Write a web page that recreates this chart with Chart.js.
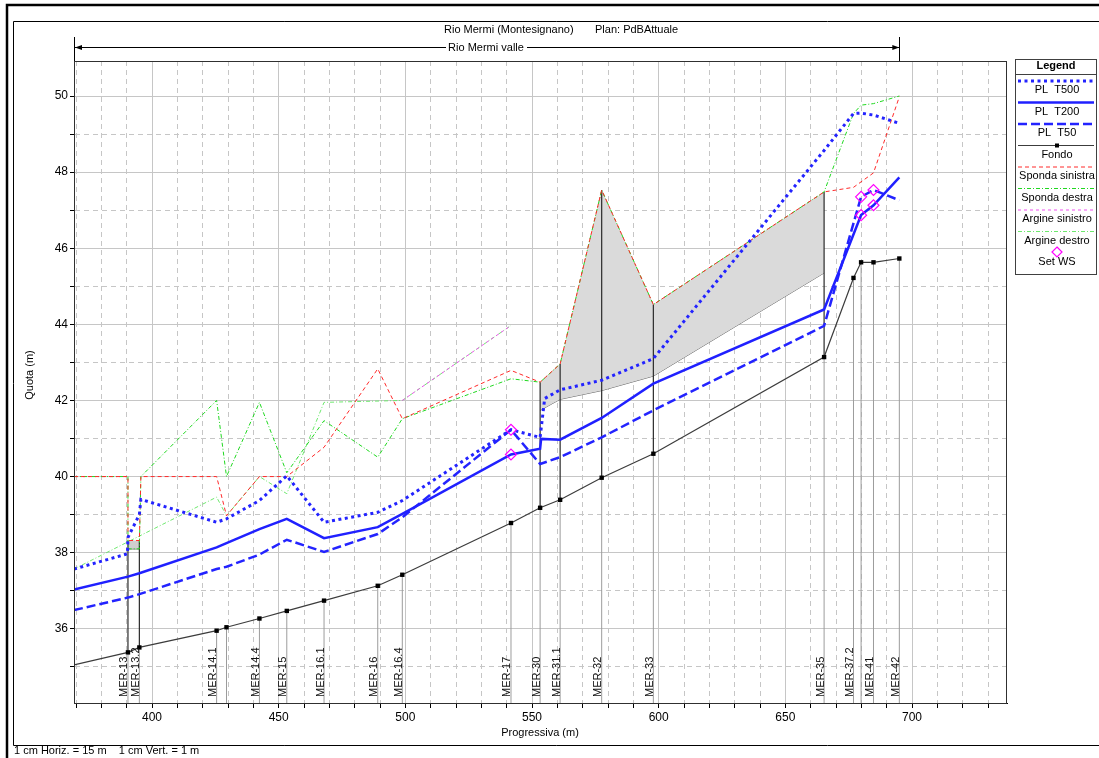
<!DOCTYPE html>
<html><head><meta charset="utf-8">
<script src="https://cdn.jsdelivr.net/npm/chart.js@4.4.1/dist/chart.umd.min.js"></script>
<style>html,body{margin:0;padding:0;background:#fff;}#wrap{position:relative;width:1099px;height:758px;}</style>
</head><body><div id="wrap"><canvas id="c" width="1099" height="758"></canvas></div>
<script>
// ---------- data ----------
const xsNames    = ['MER-13','MER-13.2','MER-14.1','','MER-14.4','MER-15','MER-16.1','MER-16','MER-16.4','MER-17','MER-30','MER-31.1','MER-32','MER-33','MER-35','MER-37.2','','MER-41','MER-42'];
const xsStations = [390.5,395.0,425.5,429.4,442.4,453.2,467.9,489.1,498.8,541.7,553.2,561.1,577.5,597.9,665.3,676.9,679.9,684.8,695.0];

const fondoX = [369.2,390.5,395.0,425.5,429.4,442.4,453.2,467.9,489.1,498.8,541.7,553.2,561.1,577.5,597.9,665.3,676.9,679.9,684.8,695.0];
const fondoY = [35.05,35.38,35.51,35.95,36.04,36.27,36.47,36.74,37.13,37.42,38.78,39.18,39.39,39.97,40.60,43.14,45.22,45.63,45.63,45.73];

const t500X = [369.2,390.3,390.5,395.0,395.6,425.5,429.4,442.4,453.2,467.9,489.1,498.8,541.7,553.2,555.0,561.1,577.5,597.9,665.3,676.9,679.9,684.8,695.0];
const t500Y = [37.57,37.97,38.40,39.00,39.40,38.80,38.89,39.37,40.02,38.80,39.06,39.37,41.23,41.03,42.05,42.28,42.53,43.10,48.57,49.54,49.55,49.50,49.28];

const t200X = [369.2,390.5,395.0,425.5,429.4,442.4,453.2,467.9,489.1,498.8,541.7,553.2,553.6,561.1,577.5,597.9,665.3,679.9,684.8,695.0];
const t200Y = [37.03,37.37,37.46,38.14,38.25,38.62,38.89,38.38,38.67,39.02,40.58,40.73,40.99,40.97,41.54,42.44,44.39,46.87,47.13,47.86];

const t50X = [369.2,390.5,395.0,425.5,429.4,442.4,453.2,467.9,489.1,498.8,541.7,553.2,561.1,577.5,597.9,665.3,679.9,684.8,695.0];
const t50Y = [36.49,36.82,36.91,37.57,37.63,37.95,38.34,38.02,38.49,38.93,41.23,40.33,40.51,41.03,41.74,43.96,47.35,47.53,47.26];

const spSinX = [369.2,390.5,390.5,395.0,395.6,425.5,429.4,442.4,453.2,467.9,489.1,498.8,541.7,553.2,561.1,577.5,597.9,665.3,676.9,684.8,695.0];
const spSinY = [40.00,40.00,38.32,38.32,40.00,40.00,38.97,40.00,40.00,40.77,42.83,41.52,42.79,42.48,42.96,47.53,44.52,47.48,47.60,47.98,49.98];

const spDesX = [369.2,390.5,390.5,395.0,395.6,425.5,429.4,442.4,453.2,467.9,489.1,498.8,541.7,553.2,561.1,577.5,597.9,665.3,676.9,679.9,684.8,695.0];
const spDesY = [40.00,40.00,38.10,38.10,40.00,42.00,40.00,41.95,40.10,41.47,40.51,41.52,42.57,42.48,42.96,47.53,44.52,47.48,49.54,49.76,49.80,50.00];

const arSinX = [498.8,541.7];
const arSinY = [42.00,43.97];

const arDesX = [369.2,425.5,429.4,442.4,453.2,467.9,498.8,541.7];
const arDesY = [37.57,39.46,38.97,40.00,39.55,41.95,42.00,43.97];

const setWsX = [541.7,541.7,679.9,679.9,684.8,684.8];
const setWsY = [41.23,40.58,47.35,46.87,47.53,47.13];

const obsX      = [553.2,561.1,577.5,597.9,665.3];
const obsTop    = [42.48,42.96,47.53,44.52,47.48];
const obsBottom = [41.74,42.03,42.26,42.64,45.35];

const boxX      = [390.5,395.0];
const boxTop    = [38.32,38.32];
const boxBottom = [38.10,38.10];

const wallX   = [390.5,395.0,553.2,561.1,577.5,597.9,665.3];
const wallTop = [38.32,38.32,42.48,42.96,47.53,44.52,47.48];

const xTickValues = [370,380,390,400,410,420,430,440,450,460,470,480,490,500,510,520,530,540,550,560,570,580,590,600,610,620,630,640,650,660,670,680,690,700,710,720,730];
const yTickValues = [35,36,37,38,39,40,41,42,43,44,45,46,47,48,49,50];

const XMIN = 369.2, XMAX = 737.5, YMIN = 34.05, YMAX = 50.92;
const FONT = '"Liberation Sans", Arial, sans-serif';

// ---------- helpers ----------
const pts = (xs, ys) => xs.map((x, i) => ({x: x, y: ys[i]}));
const fondoAt = s => fondoY[fondoX.indexOf(s)];
const xsLineData = [];
xsStations.forEach(s => { xsLineData.push({x: s, y: YMIN}, {x: s, y: fondoAt(s)}, {x: s, y: null}); });
const wallData = [];
wallX.forEach((s, i) => { wallData.push({x: s, y: fondoAt(s)}, {x: s, y: wallTop[i]}, {x: s, y: null}); });

const base = {showLine: true, pointRadius: 0, tension: 0, fill: false};

const datasets = [
  Object.assign({}, base, {label: 'PL  T500', data: pts(t500X, t500Y), borderColor: '#2323ff', borderWidth: 3, borderDash: [3, 3.5], order: 2}),
  Object.assign({}, base, {label: 'PL  T200', data: pts(t200X, t200Y), borderColor: '#2020ff', borderWidth: 2.5, order: 2}),
  Object.assign({}, base, {label: 'PL  T50', data: pts(t50X, t50Y), borderColor: '#2323ff', borderWidth: 2.5, borderDash: [9, 4], order: 2}),
  Object.assign({}, base, {label: 'Fondo', data: pts(fondoX, fondoY), borderColor: '#3c3c3c', borderWidth: 1.2,
      pointStyle: 'rect', pointRadius: fondoX.map((x, i) => i === 0 ? 0 : 3.1), pointBackgroundColor: '#000', pointBorderColor: '#000', pointBorderWidth: 0, order: 3}),
  Object.assign({}, base, {label: 'Sponda sinistra', data: pts(spSinX, spSinY), borderColor: '#ff2a2a', borderWidth: 1, borderDash: [4, 3], order: 5}),
  Object.assign({}, base, {label: 'Sponda destra', data: pts(spDesX, spDesY), borderColor: '#1fd81f', borderWidth: 1, borderDash: [4, 2, 1, 2], order: 5}),
  Object.assign({}, base, {label: 'Argine sinistro', data: pts(arSinX, arSinY), borderColor: '#f050f0', borderWidth: 1, borderDash: [3, 3], order: 6}),
  Object.assign({}, base, {label: 'Argine destro', data: pts(arDesX, arDesY), borderColor: '#6ee86e', borderWidth: 1, borderDash: [4, 2, 1, 2], order: 6}),
  {label: 'Set WS', data: pts(setWsX, setWsY), showLine: false, pointStyle: 'rectRot', pointRadius: 5.5,
      pointBorderColor: '#ff00ff', pointBackgroundColor: 'rgba(0,0,0,0)', pointBorderWidth: 1.2, borderColor: '#ff00ff', order: 1},
  Object.assign({}, base, {label: 'obsTop', data: pts(obsX, obsTop), borderColor: 'rgba(0,0,0,0)', borderWidth: 0, fill: '+1', backgroundColor: '#dadada', order: 10}),
  Object.assign({}, base, {label: 'obsBottom', data: pts(obsX, obsBottom), borderColor: '#6e6e6e', borderWidth: 1, order: 10}),
  Object.assign({}, base, {label: 'boxTop', data: pts(boxX, boxTop), borderColor: 'rgba(0,0,0,0)', borderWidth: 0, fill: '+1', backgroundColor: '#cfcfcf', order: 10}),
  Object.assign({}, base, {label: 'boxBottom', data: pts(boxX, boxBottom), borderColor: '#3a3a3a', borderWidth: 1, order: 10}),
  Object.assign({}, base, {label: 'xsLines', data: xsLineData, borderColor: '#9c9c9c', borderWidth: 1, spanGaps: false, order: 9}),
  Object.assign({}, base, {label: 'walls', data: wallData, borderColor: '#2a2a2a', borderWidth: 1.2, spanGaps: false, order: 8})
];

const isMult = (v, m) => Math.abs(v / m - Math.round(v / m)) < 1e-9;

const annot = {
  id: 'annot',
  afterDraw(chart) {
    const ctx = chart.ctx, xs = chart.scales.x, a = chart.chartArea;
    ctx.save();
    // plot frame
    ctx.strokeStyle = '#303030'; ctx.lineWidth = 1; ctx.setLineDash([]);
    ctx.strokeRect(a.left + 0.5, a.top + 0.5, a.right - a.left - 1, a.bottom - a.top);
    // outer frames
    ctx.strokeStyle = '#000'; ctx.lineWidth = 2.5;
    ctx.beginPath(); ctx.moveTo(7, 758); ctx.lineTo(7, 5); ctx.lineTo(1099, 5); ctx.stroke();
    ctx.lineWidth = 1;
    ctx.beginPath(); ctx.moveTo(13.5, 745.5); ctx.lineTo(13.5, 21.5); ctx.lineTo(1099, 21.5); ctx.stroke();
    ctx.beginPath(); ctx.moveTo(13.5, 745.5); ctx.lineTo(1099, 745.5); ctx.stroke();

    // header
    ctx.fillStyle = '#000'; ctx.font = '11px ' + FONT; ctx.textBaseline = 'middle'; ctx.textAlign = 'left';
    ctx.fillText('Rio Mermi (Montesignano)', 444, 30);
    ctx.fillText('Plan: PdBAttuale', 595, 30);
    ctx.textAlign = 'center';
    ctx.fillText('Rio Mermi valle', 486, 48);
    const xL = xs.getPixelForValue(XMIN), xR = xs.getPixelForValue(695.0);
    ctx.strokeStyle = '#000'; ctx.lineWidth = 1;
    ctx.beginPath();
    ctx.moveTo(xL, 47.5); ctx.lineTo(446, 47.5);
    ctx.moveTo(527, 47.5); ctx.lineTo(xR, 47.5);
    ctx.moveTo(Math.round(xL) + 0.5, 37); ctx.lineTo(Math.round(xL) + 0.5, a.top);
    ctx.moveTo(Math.round(xR) + 0.5, 37); ctx.lineTo(Math.round(xR) + 0.5, a.top);
    ctx.stroke();
    ctx.fillStyle = '#000';
    ctx.beginPath(); ctx.moveTo(xL + 1, 47.5); ctx.lineTo(xL + 8, 45); ctx.lineTo(xL + 8, 50); ctx.closePath(); ctx.fill();
    ctx.beginPath(); ctx.moveTo(xR, 47.5); ctx.lineTo(xR - 7, 45); ctx.lineTo(xR - 7, 50); ctx.closePath(); ctx.fill();

    // station labels
    ctx.font = '11px ' + FONT; ctx.fillStyle = '#111'; ctx.textAlign = 'left'; ctx.textBaseline = 'alphabetic';
    xsStations.forEach((s, i) => {
      if (!xsNames[i]) return;
      const px = xs.getPixelForValue(s);
      ctx.save(); ctx.translate(px - 0.5, 697); ctx.rotate(-Math.PI / 2);
      ctx.fillText(xsNames[i], 0, 0); ctx.restore();
    });

    // axis titles
    ctx.fillStyle = '#000'; ctx.font = '11px ' + FONT; ctx.textAlign = 'center'; ctx.textBaseline = 'middle';
    ctx.fillText('Progressiva (m)', 540, 733);
    ctx.save(); ctx.translate(30, 375); ctx.rotate(-Math.PI / 2); ctx.fillText('Quota (m)', 0, 0); ctx.restore();
    ctx.textAlign = 'left';
    ctx.fillText('1 cm Horiz. = 15 m    1 cm Vert. = 1 m', 14, 751);

    // legend
    const L = 1015.5, R = 1096.5, T = 59.5, B = 274.5;
    ctx.strokeStyle = '#404040'; ctx.lineWidth = 1; ctx.setLineDash([]);
    ctx.strokeRect(L, T, R - L, B - T);
    ctx.beginPath(); ctx.moveTo(L, 74.5); ctx.lineTo(R, 74.5); ctx.stroke();
    ctx.fillStyle = '#000'; ctx.font = 'bold 11px ' + FONT; ctx.textAlign = 'center'; ctx.textBaseline = 'middle';
    ctx.fillText('Legend', 1056, 66);
    ctx.font = '11px ' + FONT;
    const cx = 1057;
    [0, 1, 2, 3, 4, 5, 6, 7].forEach((di, k) => {
      const d = chart.data.datasets[di];
      const ly = 81 + k * 21.5, ty = 90 + k * 21.5;
      ctx.save();
      ctx.strokeStyle = d.borderColor; ctx.lineWidth = d.borderWidth; ctx.setLineDash(d.borderDash || []);
      ctx.beginPath(); ctx.moveTo(1018, ly); ctx.lineTo(1094, ly); ctx.stroke();
      ctx.restore();
      if (d.label === 'Fondo') { ctx.fillStyle = '#000'; ctx.fillRect(cx - 2, ly - 2, 4, 4); }
      ctx.fillStyle = '#000';
      ctx.fillText(d.label, cx, ty);
    });
    const sy = 252;
    ctx.strokeStyle = '#ff00ff'; ctx.lineWidth = 1.2;
    ctx.beginPath(); ctx.moveTo(cx, sy - 5); ctx.lineTo(cx + 5, sy); ctx.lineTo(cx, sy + 5); ctx.lineTo(cx - 5, sy); ctx.closePath(); ctx.stroke();
    ctx.fillStyle = '#000';
    ctx.fillText('Set WS', cx, 262);
    ctx.restore();
  }
};

new Chart(document.getElementById('c'), {
  type: 'scatter',
  data: {datasets: datasets},
  options: {
    responsive: false, animation: false, devicePixelRatio: 1,
    layout: {padding: {left: 0, top: 61, right: 92, bottom: 0}},
    plugins: {legend: {display: false}, tooltip: {enabled: false}, title: {display: false}},
    elements: {line: {tension: 0}},
    scales: {
      x: {
        type: 'linear', position: 'bottom', min: XMIN, max: XMAX,
        afterFit: s => { s.height = 55; },
        afterBuildTicks: s => { s.ticks = xTickValues.map(v => ({value: v})); },
        ticks: {callback: v => isMult(v, 50) ? String(v) : '', font: {size: 12, family: FONT}, color: '#000', padding: 2, maxRotation: 0, minRotation: 0, autoSkip: false},
        grid: {color: '#c6c6c6', lineWidth: 1, tickColor: '#000', tickLength: 5, drawTicks: true},
        border: {display: true, color: '#000', width: 1, dash: c => (c.tick && !isMult(c.tick.value, 50)) ? [5, 4] : []}
      },
      y: {
        type: 'linear', position: 'left', min: YMIN, max: YMAX,
        afterFit: s => { s.width = 74; },
        afterBuildTicks: s => { s.ticks = yTickValues.map(v => ({value: v})); },
        ticks: {callback: v => isMult(v, 2) ? String(v) : '', font: {size: 12, family: FONT}, color: '#000', padding: 2, autoSkip: false},
        grid: {color: '#c6c6c6', lineWidth: 1, tickColor: '#000', tickLength: 4, drawTicks: true},
        border: {display: true, color: '#000', width: 1, dash: c => (c.tick && !isMult(c.tick.value, 2)) ? [5, 4] : []}
      }
    }
  },
  plugins: [annot]
});
</script></body></html>
